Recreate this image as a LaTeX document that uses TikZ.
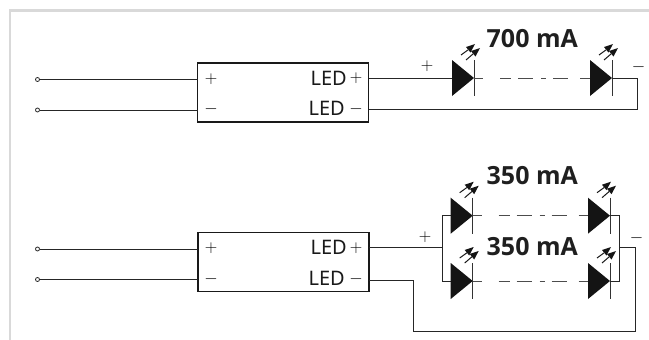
\documentclass[tikz,border=0pt]{standalone}
\usepackage{fontspec}
\setmainfont{Noto Sans}
\newfontfamily\boldf[BoldFont={Open Sans Bold}]{Open Sans}
\tikzset{
  x=1pt,y=-1pt,
  wire/.style={draw=black!85,line width=1pt},
  dashwire/.style={draw=black!70,line width=1pt,dash pattern=on 9pt off 17pt on 11pt off 7pt on 15pt off 8pt on 5pt off 7pt on 15pt off 12pt on 40pt},
  driver/.style={draw=black!90,line width=1.7pt,fill=white,rectangle,minimum width=171pt,minimum height=59pt,inner sep=0pt,outer sep=0pt},
  term/.style={circle,draw=black!85,line width=0.8pt,fill=white,minimum size=4pt,inner sep=0pt},
  cur/.style={font=\boldf\bfseries\fontsize{25}{25}\selectfont,text=black!88,anchor=base west,inner sep=0pt},
  ledt/.style={font=\fontsize{20}{20}\selectfont,text=black!90,anchor=base east,inner sep=0pt},
  sym/.style={font=\fontsize{18}{18}\selectfont,text=black,anchor=center,inner sep=0pt},
  border/.style={draw=black!15,line width=2.5pt},
}
% name, bar x, centre y
\newcommand{\ledsym}[3]{%
  \begin{scope}[shift={(#2,#3)}]
    \coordinate (#1-in) at (-22,0);
    \coordinate (#1-out) at (0,0);
    \fill[black!92] (-22,-18) -- (0,0) -- (-22,18) -- cycle;
    \draw[black!80,line width=1pt] (0,-18) -- (0,18);
    \draw[black!90,line width=1pt] (-13,-23) -- (-5.8,-28.2);
    \fill[black!92] (1,-34) -- (-8,-31) -- (-3.5,-25.5) -- cycle;
    \draw[black!90,line width=1pt] (-8,-18) -- (-0.8,-24.2);
    \fill[black!92] (6,-30) -- (-3,-27) -- (1.5,-21.5) -- cycle;
  \end{scope}}
\begin{document}
\begin{tikzpicture}
\useasboundingbox (0,0) rectangle (649,340);
\draw[border] (10,340) -- (10,10.5) -- (649,10.5);

% --- upper circuit ---
\node[driver] (d1) at (283,92.8) {};
\node[term] (a1) at (37.5,79.5) {};
\node[term] (a2) at (37.5,110) {};
\coordinate (d1p) at (d1.west |- a1);
\coordinate (d1n) at (d1.west |- a2);
\draw[wire] (a1) -- (d1p);
\draw[wire] (a2) -- (d1n);
\node[sym] (d1plus) at (211,79) {$+$};
\node[sym] (d1minus) at (211,109.5) {$-$};
\node[ledt] (d1l1) at (347,85.5) {LED};
\node[ledt] (d1l2) at (345,115.5) {LED};
\node[sym] (d1lp) at (356,78.5) {$+$};
\node[sym] (d1ln) at (356,109.5) {$-$};
\ledsym{u1}{474}{78}
\ledsym{u2}{612}{78}
\draw[wire] (d1.east |- u1-in) -- (u1-in);
\draw[dashwire] (u1-out) -- (u2-in);
\coordinate (u3) at (637,78);
\coordinate (u4) at (637,109.5);
\draw[wire] (u2-out) -- (u3) -- (u4) -- (d1.east |- u4);
\node[sym] (up) at (427,66.5) {$+$};
\node[sym] (um) at (638.5,67) {$-$};
\node[cur] (t700) at (486.5,48) {700 mA};

% --- lower circuit ---
\node[driver] (d2) at (283.5,262) {};
\node[term] (b1) at (37.5,249) {};
\node[term] (b2) at (37.5,279.5) {};
\coordinate (d2p) at (d2.west |- b1);
\coordinate (d2n) at (d2.west |- b2);
\draw[wire] (b1) -- (d2p);
\draw[wire] (b2) -- (d2n);
\node[sym] (d2plus) at (211,248) {$+$};
\node[sym] (d2minus) at (211,279) {$-$};
\node[ledt] (d2l1) at (347,254.5) {LED};
\node[ledt] (d2l2) at (345,285.5) {LED};
\node[sym] (d2lp) at (356,248) {$+$};
\node[sym] (d2ln) at (356,279) {$-$};
\ledsym{l1}{472.7}{215.7}
\ledsym{l2}{610}{215.7}
\ledsym{l3}{472.7}{281}
\ledsym{l4}{610}{281}
\draw[dashwire] (l1-out) -- (l2-in);
\draw[dashwire] (l3-out) -- (l4-in);
\coordinate (j1) at (442,247);
\coordinate (j2) at (619.3,247);
\draw[wire] (d2.east |- j1) -- (j1);
\draw[wire] (l1-in) -- (442,215.7) -- (442,281) -- (l3-in);
\draw[wire] (l2-out) -- (619.3,215.7) -- (619.3,281) -- (l4-out);
\coordinate (r1) at (635.7,247);
\coordinate (r2) at (635.7,331.7);
\coordinate (r3) at (413,331.7);
\coordinate (r4) at (413,280);
\draw[wire] (j2) -- (r1) -- (r2) -- (r3) -- (r4) -- (d2.east |- r4);
\node[sym] (lp) at (425,237.5) {$+$};
\node[sym] (lm) at (636.7,238) {$-$};
\node[cur] (t350a) at (486.5,184) {350 mA};
\node[cur] (t350b) at (486.5,255) {350 mA};
\end{tikzpicture}
\end{document}
